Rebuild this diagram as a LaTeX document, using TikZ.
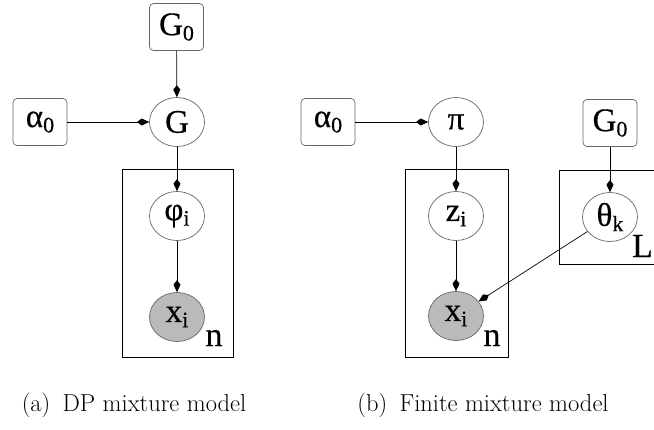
\documentclass[tikz,border=0pt]{standalone}
\usepackage{fontspec}
\newfontfamily\tms{Liberation Serif}[FakeBold=0.5]
\usetikzlibrary{arrows.meta,shapes.geometric}
\newcommand{\lowsub}[1]{\raisebox{-0.35ex}{\fontsize{22}{22}\selectfont #1}}
\begin{document}
\begin{tikzpicture}[x=1pt,y=-1pt,
  nodefont/.style={font=\tms\fontsize{33}{33}\selectfont},
  hyper/.style={draw=black!60, line width=0.7pt, rounded corners=4pt, minimum width=54pt, minimum height=47pt, inner sep=0pt, fill=white, nodefont},
  latent/.style={ellipse, draw=black!60, line width=0.7pt, minimum width=55pt, minimum height=49pt, inner sep=0pt, fill=white, nodefont},
  obs/.style={latent, fill=black!27},
  plate/.style={draw=black, line width=0.8pt},
  edge/.style={-{Kite[length=12pt,width=7pt,inset=4.5pt]}, line width=0.7pt},
  platelabel/.style={inner sep=0pt, font=\tms\fontsize{34}{34}\selectfont},
  caption/.style={inner sep=0pt, font=\fontsize{24.5}{28}\selectfont}]
\useasboundingbox (0,0) rectangle (654,429);
% plates
\draw[plate] (122,169) rectangle (233,357);
\draw[plate] (405,169) rectangle (508,357);
\draw[plate] (559,170) rectangle (670,264);
% left model
\node[hyper] (G0a) at (176.5,27) {G\lowsub{0}};
\node[hyper] (a0a) at (40,122) {α\lowsub{0}};
\node[latent] (G) at (177,122) {G};
\node[latent] (phi) at (177,216) {φ\lowsub{i}};
\node[obs] (xa) at (177,317) {x\lowsub{i}};
\node[platelabel] (na) at (214,338) {n};
\draw[edge] (G0a) -- (G);
\draw[edge] (a0a) -- (G);
\draw[edge] (G) -- (phi);
\draw[edge] (phi) -- (xa);
% right model
\node[hyper] (a0b) at (328,122) {α\lowsub{0}};
\node[latent] (pi) at (456,122) {π};
\node[latent] (z) at (456,216) {z\lowsub{i}};
\node[obs] (xb) at (456,316) {x\lowsub{i}};
\node[platelabel] (nb) at (492,338) {n};
\node[hyper] (G0b) at (610,123) {G\lowsub{0}};
\node[latent] (theta) at (610,217) {θ\lowsub{k}};
\node[platelabel,anchor=east] (L) at (653,246) {L};
\draw[edge] (a0b) -- (pi);
\draw[edge] (pi) -- (z);
\draw[edge] (z) -- (xb);
\draw[edge] (G0b) -- (theta);
\draw[edge] (theta) -- (xb);
% captions
\node[caption] (capa) at (134,405) {(a)\enspace DP mixture model};
\node[caption] (capb) at (483,405) {(b)\enspace Finite mixture model};
\end{tikzpicture}
\end{document}
